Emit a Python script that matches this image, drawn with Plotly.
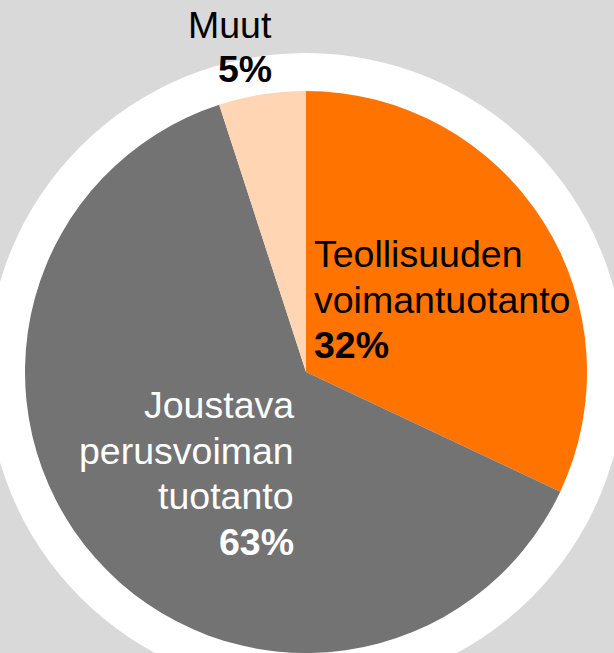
import plotly.graph_objects as go

# Data
labels = ["Teollisuuden voimantuotanto", "Joustava perusvoiman tuotanto", "Muut"]
label_lines = [["Teollisuuden", "voimantuotanto"], ["Joustava", "perusvoiman", "tuotanto"], ["Muut"]]
shares = [32, 63, 5]

colors = ["#ff7300", "#737373", "#ffd5b3"]
text_colors = ["black", "white", "black"]

W, H = 614, 653
cx, cy, R = 306, 372, 281   # pie centre / radius in pixels (from top)
R_ring = 319

fig = go.Figure()

fig.add_trace(go.Pie(
    labels=labels,
    values=shares,
    sort=False,
    direction="clockwise",
    rotation=0,
    marker=dict(colors=colors, line=dict(width=0)),
    textinfo="none",
    hoverinfo="label+percent",
    showlegend=False,
    domain=dict(x=[(cx - R) / W, (cx + R) / W], y=[(H - cy - R) / H, (H - cy + R) / H]),
))

# white disc behind the pie
fig.add_shape(
    type="circle", xref="paper", yref="paper", layer="below",
    x0=(cx - R_ring) / W, x1=(cx + R_ring) / W,
    y0=(H - cy - R_ring) / H, y1=(H - cy + R_ring) / H,
    fillcolor="white", line=dict(width=0),
)

# label placement (pixels): x, first baseline, line step, anchor
label_pos = [(312, 267, 45.5, "left"), (296, 418, 45.7, "right"), (274, 38, 44, "right")]
fs = 37.5

for lines, v, tc, (px, base, step, anc) in zip(label_lines, shares, text_colors, label_pos):
    rows = lines + [f"<b>{v}%</b>"]
    for i, row in enumerate(rows):
        yb = base + i * step
        fig.add_annotation(
            x=px / W, y=1 - (yb - 0.3465 * fs) / H, xref="paper", yref="paper",
            xanchor=anc, yanchor="middle", align=anc,
            text=row,
            showarrow=False,
            font=dict(family="Liberation Sans, Arial, sans-serif", size=fs, color=tc),
        )

fig.update_layout(
    width=W, height=H,
    margin=dict(l=0, r=0, t=0, b=0),
    paper_bgcolor="#d9d9d9",
    plot_bgcolor="#d9d9d9",
)

fig.write_html("out.html", config={"displayModeBar": False},
               post_script="document.body.style.margin='0';")
